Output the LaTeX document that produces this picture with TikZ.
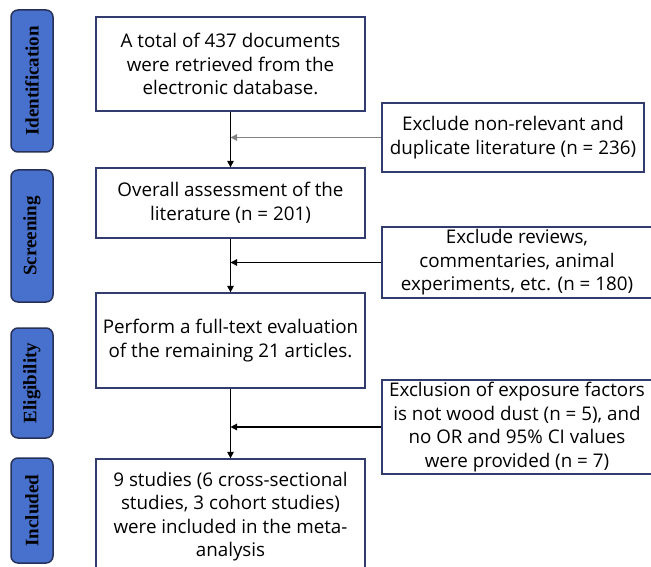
\documentclass[tikz,border=0pt]{standalone}
\usepackage{fontspec}
\setmainfont{Open Sans}
\newfontfamily\labfont{Liberation Serif}
\usetikzlibrary{arrows.meta}
\definecolor{boxline}{RGB}{50,60,110}
\definecolor{labfill}{RGB}{72,112,205}
\definecolor{labline}{RGB}{38,48,88}
\definecolor{grayarrow}{RGB}{130,130,130}
\begin{document}
\begin{tikzpicture}[x=1pt,y=-1pt,
  stage/.style={draw=labline, line width=1.5pt, fill=labfill, rounded corners=7pt,
    rotate=90, minimum height=42pt, inner sep=0pt,
    font=\labfont\bfseries\fontsize{19}{22}\selectfont},
  mainbox/.style={draw=boxline, line width=1.3pt, fill=white, minimum width=269pt,
    inner sep=0pt, align=center, font=\fontsize{18.8}{23.5}\selectfont},
  sidebox/.style={draw=boxline, line width=1.3pt, fill=white, minimum width=270pt,
    inner sep=0pt, align=center, font=\fontsize{18.8}{23.5}\selectfont},
  flow/.style={line width=1.2pt, -{Triangle[length=6.5pt,width=6.5pt]}},
]
\useasboundingbox (0,0) rectangle (651,567);
\clip (0,0) rectangle (651,567);
\fill[white] (0,0) rectangle (651,567);

\node[stage, minimum width=142pt] (l1) at (32,81) {Identification};
\node[stage, minimum width=132pt] (l2) at (32,236) {Screening};
\node[stage, minimum width=110pt] (l3) at (32,383) {Eligibility};
\node[stage, minimum width=105pt] (l4) at (32,510.5) {Included};

\node[mainbox, minimum height=94pt] (b1) at (230.5,64)
  {A total of 437 documents\\were retrieved from the\\electronic database.};
\node[mainbox, minimum height=70pt] (b2) at (230.5,203)
  {Overall assessment of the\\literature (n = 201)};
\node[mainbox, minimum height=95pt] (b3) at (230.5,340.5)
  {Perform a full-text evaluation\\of the remaining 21 articles.};
\node[mainbox, minimum height=115pt] (b4) at (230.5,516.5)
  {9 studies (6 cross-sectional\\studies, 3 cohort studies)\\were included in the meta-\\analysis};

\node[sidebox, minimum width=262pt, minimum height=69pt] (r1) at (513,137.5)
  {Exclude non-relevant and\\duplicate literature (n = 236)};
\node[sidebox, minimum height=71pt] (r2) at (517,262.5)
  {Exclude reviews,\\commentaries, animal\\experiments, etc. (n = 180)};
\node[sidebox, minimum height=94pt] (r3) at (517,427)
  {Exclusion of exposure factors\\is not wood dust (n = 5), and\\no OR and 95\% CI values\\were provided (n = 7)};

\draw[flow] (b1) -- (b2);
\draw[flow] (b2) -- (b3);
\draw[flow] (b3) -- (b4);
\draw[flow, draw=grayarrow] (r1.west) -- (r1.west -| b1.south);
\draw[flow] (r2.west) -- (r2.west -| b2.south);
\draw[flow] (r3.west) -- (r3.west -| b3.south);
\end{tikzpicture}
\end{document}
